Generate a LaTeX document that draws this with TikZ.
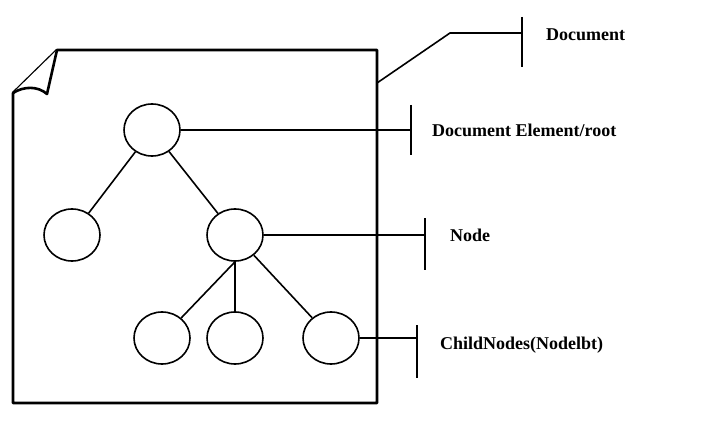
\documentclass[tikz,border=0pt]{standalone}
\usepackage{fontspec}
\setmainfont{Liberation Serif}
\usetikzlibrary{shapes.geometric}

\begin{document}
\begin{tikzpicture}[x=1pt,y=-1pt,
  vtx/.style={draw,line width=1.6pt,ellipse,minimum width=56pt,minimum height=52pt,inner sep=0pt},
  lbl/.style={anchor=west,font=\bfseries\fontsize{18}{21}\selectfont,inner sep=0pt},
  page/.style={line width=2.6pt,line join=round},
  wire/.style={line width=1.6pt}]
			\useasboundingbox (0,0) rectangle (720,425);

			% sheet with folded corner
			\draw[page] (57,50) -- (377,50) -- (377,403) -- (13,403) -- (13,93) -- cycle;
			\draw[page,fill=white] (57,50) -- (47,94) .. controls (38,86) and (24,86) .. (13,93);

			% tree
			\node[vtx] (root) at (152,130) {};
			\node[vtx] (left) at (72,235) {};
			\node[vtx] (node) at (235,235) {};
			\node[vtx] (c1) at (162,338) {};
			\node[vtx] (c2) at (235,338) {};
			\node[vtx] (c3) at (331,338) {};

			\path[wire]
			(root) edge (left)
			(root) edge (node)
			(node.south) edge (c1)
			(node.south) edge (c2)
			(node) edge (c3);

			% labels
			\node[lbl] (doc) at (546,35) {Document};
			\node[lbl] (elem) at (432,130) {Document Element/root};
			\node[lbl] (nd) at (450,235) {Node};
			\node[lbl] (kids) at (440,345) {ChildNodes(Nodelbt)};

			\coordinate (pg) at (377,83);
			\coordinate (b1) at (522,33);
			\coordinate (b2) at (411,130);
			\coordinate (b3) at (425,235);
			\coordinate (b4) at (417,338);

			\draw[wire] (pg) -- (450,33) -- (b1);
			\draw[wire] (root) -- (b2);
			\draw[wire] (node) -- (b3);
			\draw[wire] (c3.east) -- (b4);

			\draw[wire] (b1) ++(0,-16) -- ++(0,50);
			\draw[wire] (b2) ++(0,-25) -- ++(0,50);
			\draw[wire] (b3) ++(0,-17) -- ++(0,52);
			\draw[wire] (b4) ++(0,-13) -- ++(0,53);
		\end{tikzpicture}
\end{document}
